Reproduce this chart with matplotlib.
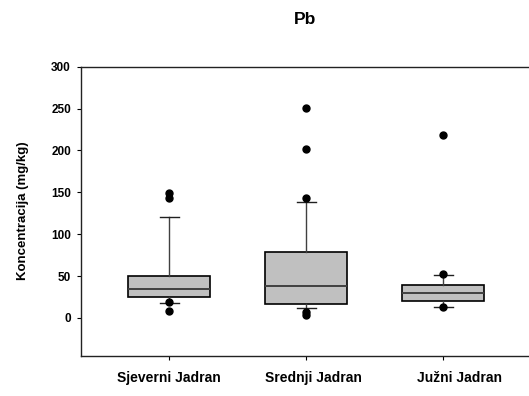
import matplotlib
matplotlib.use("Agg")
import matplotlib.pyplot as plt
import matplotlib.transforms as mtransforms

plt.rcParams['font.family'] = ['Liberation Sans', 'DejaVu Sans']

# regions and box statistics (mg/kg)
regions = ["Sjeverni Jadran", "Srednji Jadran", "Južni Jadran"]
q1 = [24.7, 17.1, 20.3]
medians = [34.6, 38.6, 30.2]
q3 = [50.5, 78.8, 39.4]
whisker_low = [18.3, 11.5, 13.5]
whisker_high = [120, 138.4, 51.3]
outliers = [
    [149.5, 143, 18.7, 8],
    [250.2, 201.3, 143.6, 7.5, 4],
    [218, 52.5, 13.5],
]

stats = []
for i in range(len(regions)):
    stats.append(dict(med=medians[i], q1=q1[i], q3=q3[i],
                      whislo=whisker_low[i], whishi=whisker_high[i],
                      fliers=outliers[i], label=regions[i]))

fig = plt.figure(figsize=(5.29, 3.96), dpi=100)
ax = fig.add_axes([0.1526, 0.1018, 0.85, 0.7298])

positions = [1, 2, 3]
ax.bxp(stats, positions=positions, widths=0.6, capwidths=0.137,
       patch_artist=True, showfliers=True,
       boxprops=dict(facecolor="#c0c0c0", edgecolor="black", linewidth=1.2),
       medianprops=dict(color="#404040", linewidth=1.4),
       whiskerprops=dict(color="#404040", linewidth=1.0),
       capprops=dict(color="#202020", linewidth=1.0),
       flierprops=dict(marker="o", markerfacecolor="black",
                       markeredgecolor="black", markersize=5))

ax.set_xlim(0.355, 3.635)
ax.set_ylim(-45, 300)
ax.set_yticks([0, 50, 100, 150, 200, 250, 300])
ax.tick_params(axis="y", direction="out", length=3, width=0.8,
               labelsize=8.5, pad=4)
for lab in ax.get_yticklabels():
    lab.set_fontweight("bold")

ax.set_xticks(positions)
ax.set_xticklabels(regions, fontsize=10, fontweight="bold")
ax.tick_params(axis="x", direction="out", length=3, width=0.8, pad=8)

# the labels in the original sit a little right of their ticks
label_shift_px = [0, 7, 16]
for lab, dx in zip(ax.get_xticklabels(), label_shift_px):
    lab.set_transform(lab.get_transform() +
                      mtransforms.ScaledTranslation(dx / 100, 0, fig.dpi_scale_trans))

ax.spines["right"].set_visible(False)
for s in ["left", "top", "bottom"]:
    ax.spines[s].set_color("#222222")
    ax.spines[s].set_linewidth(1.0)

ax.set_ylabel("Koncentracija (mg/kg)", fontsize=9.5, fontweight="bold",
              labelpad=16)
ax.set_title("Pb", fontsize=12.5, fontweight="bold", pad=31)

fig.savefig("out.png", dpi=100)
